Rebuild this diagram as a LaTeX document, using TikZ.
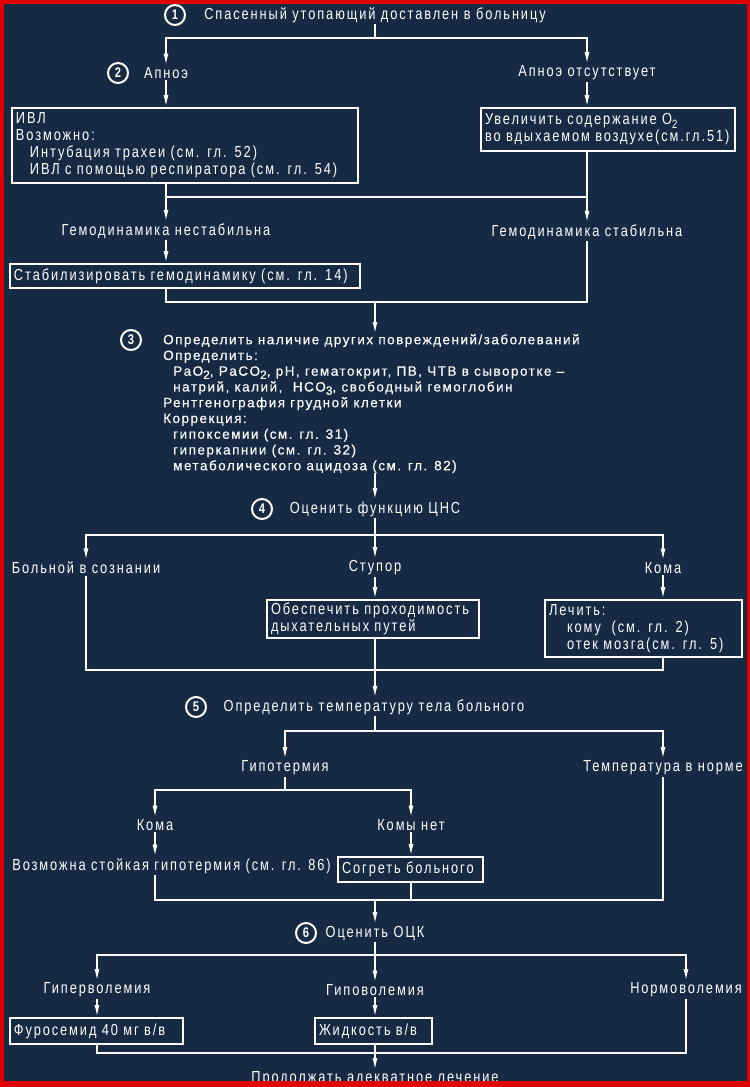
\documentclass[tikz,border=0pt]{standalone}
\usepackage{fontspec}
\usetikzlibrary{arrows.meta,calc}
\newfontfamily\labf{Liberation Sans}[FakeStretch=0.8,LetterSpace=12]
\newfontfamily\labb{Liberation Sans}[FakeStretch=1.0,LetterSpace=11,FakeBold=0.4]
\definecolor{bgnavy}{RGB}{23,42,68}
\definecolor{frame}{RGB}{225,0,0}
\newcommand{\mysub}[1]{\raisebox{-0.45ex}{\fontsize{12bp}{12bp}\selectfont #1}}
\begin{document}
\begin{tikzpicture}[x=1bp,y=-1bp,
  lbl/.style={text=white,font=\labf\fontsize{16bp}{17bp}\selectfont,inner sep=1.5bp},
  box/.style={lbl,draw=white,line width=1.7bp,align=left,inner xsep=4bp,inner ysep=2bp},
  numc/.style={circle,draw=white,line width=2bp,minimum size=20bp,inner sep=0pt,text=white,font=\labf\bfseries\fontsize{14bp}{14bp}\selectfont},
  ln/.style={white,line width=1.7bp},
  arr/.style={ln,-{Latex[length=12bp,width=5bp]}}]
\useasboundingbox (0,0) rectangle (750,1087);
\fill[bgnavy] (0,0) rectangle (750,1087);
% ---- step 1
\node[numc] (n1) at (175,15) {1};
\node[lbl] (t1) at (375,15) {Спасенный утопающий доставлен в больницу};
\coordinate (j1) at (375,38);
\node[numc] (n2) at (118,73) {2};
\node[lbl] (a1) at (166,73) {Апноэ};
\node[lbl] (a2) at (587,73) {Апноэ отсутствует};
\draw[ln] (t1.south) -- (j1);
\draw[arr] (j1) -| (a1.north);
\draw[arr] (j1) -| (a2.north);
\node[box,text width=338bp,minimum height=75bp] (b1) at (185,145.5)
 {ИВЛ\\Возможно:\\\hspace*{14bp}Интубация трахеи (см. гл. 52)\\\hspace*{14bp}ИВЛ с помощью респиратора (см. гл. 54)};
\node[box,text width=246bp,minimum height=43bp] (b2) at (608,129.5)
 {Увеличить содержание O\mysub{2}\\во вдыхаемом воздухе(см.гл.51)};
\draw[arr] (a1.south) -- (a1.south |- b1.north);
\draw[arr] (a2.south) -- (a2.south |- b2.north);
\coordinate (j2L) at (166,197);
\coordinate (j2R) at (587,197);
\draw[ln] (a1 |- b1.south) -- (j2L) -- (j2R) -- (a2 |- b2.south);
\node[lbl] (g1) at (166,231) {Гемодинамика нестабильна};
\node[lbl] (g2) at (587,232) {Гемодинамика стабильна};
\draw[arr] (j2L) -- (g1.north);
\draw[arr] (j2R) -- (g2.north);
\node[box,text width=342bp,minimum height=24bp] (b3) at (185,276)
 {Стабилизировать гемодинамику (см. гл. 14)};
\draw[arr] (g1.south) -- (g1.south |- b3.north);
\coordinate (j3L) at (166,302);
\coordinate (j3R) at (587,302);
\coordinate (j3M) at (375,302);
\draw[ln] (g1 |- b3.south) -- (j3L) -- (j3R) -- (g2.south);
% ---- step 3
\node[numc] (n3) at (131,340) {3};
\node[lbl,anchor=north west,align=left,inner sep=0pt,font=\labb\fontsize{13.5bp}{15.75bp}\selectfont] (s3) at (163,334)
 {Определить наличие других повреждений/заболеваний\\
  Определить:\\
  \hspace*{10bp}PaO\mysub{2}, PaCO\mysub{2}, pH, гематокрит, ПВ, ЧТВ в сыворотке –\\
  \hspace*{10bp}натрий, калий, \ HCO\mysub{3}, свободный гемоглобин\\
  Рентгенография грудной клетки\\
  Коррекция:\\
  \hspace*{10bp}гипоксемии (см. гл. 31)\\
  \hspace*{10bp}гиперкапнии (см. гл. 32)\\
  \hspace*{10bp}метаболического ацидоза (см. гл. 82)};
\draw[arr] (j3M) -- (j3M |- s3.north);
% ---- step 4
\node[numc] (n4) at (262,509) {4};
\node[lbl] (t4) at (375,509) {Оценить функцию ЦНС};
\draw[arr] (j3M |- s3.south) -- (t4.north);
\coordinate (j4M) at (375,535);
\node[lbl] (c1) at (86,568) {Больной в сознании};
\node[lbl] (c2) at (375,568) {Ступор};
\node[lbl] (c3) at (663,568) {Кома};
\draw[ln] (t4.south) -- (j4M);
\draw[arr] (j4M) -| (c1.north);
\draw[arr] (j4M) -- (c2.north);
\draw[arr] (j4M) -| (c3.north);
\node[box,text width=204bp,minimum height=38bp] (b4) at (373,619)
 {Обеспечить проходимость\\дыхательных путей};
\node[box,text width=189bp,minimum height=57bp] (b5) at (643.5,628.5)
 {Лечить:\\\hspace*{18bp}кому \ (см. гл. 2)\\\hspace*{18bp}отек мозга(см. гл. 5)};
\draw[arr] (c2.south) -- (c2.south |- b4.north);
\draw[arr] (c3.south) -- (c3.south |- b5.north);
\coordinate (j5L) at (86,670);
\coordinate (j5R) at (663,670);
\coordinate (j5M) at (375,670);
\draw[ln] (c1.south) -- (j5L) -- (j5R) -- (c3 |- b5.south);
\draw[ln] (c2 |- b4.south) -- (j5M);
% ---- step 5
\node[numc] (n5) at (196,707) {5};
\node[lbl] (t5) at (374,707) {Определить температуру тела больного};
\draw[arr] (j5M) -- (j5M |- t5.north);
\coordinate (j6M) at (375,731);
\draw[ln] (j5M |- t5.south) -- (j6M);
\node[lbl] (d1) at (285,768) {Гипотермия};
\node[lbl] (d2) at (663,768) {Температура в норме};
\draw[arr] (j6M) -| (d1.north);
\draw[arr] (j6M) -| (d2.north);
\coordinate (j7M) at (285,790);
\node[lbl] (e1) at (155,825) {Кома};
\node[lbl] (e2) at (411,825) {Комы нет};
\draw[ln] (d1.south) -- (j7M);
\draw[arr] (j7M) -| (e1.north);
\draw[arr] (j7M) -| (e2.north);
\node[lbl] (e3) at (171.5,866) {Возможна стойкая гипотермия (см. гл. 86)};
\node[box,text width=137bp,minimum height=25bp] (b6) at (410.5,869.5) {Согреть больного};
\draw[arr] (e1.south) -- (e1.south |- e3.north);
\draw[arr] (e2.south) -- (e2.south |- b6.north);
\coordinate (j8L) at (155,900);
\coordinate (j8R) at (663,900);
\coordinate (j8M) at (375,900);
\draw[ln] (e1 |- e3.south) -- (j8L) -- (j8R) -- (d2.south);
\draw[ln] (e2 |- b6.south) -- (e2 |- j8L);
% ---- step 6
\node[numc] (n6) at (306,933) {6};
\node[lbl] (t6) at (375,933) {Оценить ОЦК};
\draw[arr] (j8M) -- (t6.north);
\coordinate (j9M) at (375,955);
\draw[ln] (t6.south) -- (j9M);
\node[lbl] (h1) at (97,990) {Гиперволемия};
\node[lbl] (h2) at (375,990) {Гиповолемия};
\node[lbl] (h3) at (686,990) {Нормоволемия};
\draw[arr] (j9M) -| (h1.north);
\draw[arr] (j9M) -- (h2.north);
\draw[arr] (j9M) -| (h3.north);
\node[box,text width=165bp,minimum height=26bp] (b7) at (96.5,1031) {Фуросемид 40 мг в/в};
\node[box,text width=109bp,minimum height=26bp] (b8) at (373.5,1031) {Жидкость в/в};
\draw[arr] (h1.south) -- (h1.south |- b7.north);
\draw[arr] (h2.south) -- (h2.south |- b8.north);
\coordinate (j10L) at (97,1053);
\coordinate (j10R) at (686,1053);
\coordinate (j10M) at (375,1053);
\draw[ln] (h1 |- b7.south) -- (j10L) -- (j10R) -- (h3.south);
\draw[ln] (h2 |- b8.south) -- (j10M);
\node[lbl] (t7) at (375,1079) {Продолжать адекватное лечение};
\draw[arr] (j10M) -- (t7.north);
% ---- red frame
\draw[frame,line width=7bp] (0,0) rectangle (750,1087);
\fill[frame] (0,1081) rectangle (750,1087);
\end{tikzpicture}
\end{document}
